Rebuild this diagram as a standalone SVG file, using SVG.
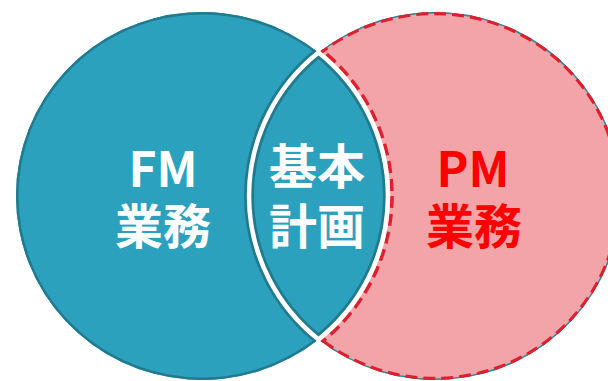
<svg xmlns="http://www.w3.org/2000/svg" width="608" height="381" viewBox="0 0 608 381">
<defs>
<style>
.teal{fill:#2ca1bd}
.pink{fill:#f2a4a8}
.dk{fill:none;stroke:#217a8d}
.rd{fill:none;stroke:#dd1f2e;stroke-width:3.5;stroke-dasharray:12 6}
.lbl{font-family:"Noto Sans CJK JP","Noto Sans",sans-serif;font-weight:bold;font-size:48px;text-anchor:middle}
.w{fill:#ffffff}
.r{fill:#ff0000}
</style>
<clipPath id="cL"><path d="M318.5,52.6 A186,184 0 1 0 318.5,339.4 A186,184 0 0 1 318.5,52.6 Z"/></clipPath>
<clipPath id="cC"><path d="M318.5,52.6 A186,184 0 0 0 318.5,339.4 A186,184 0 0 0 318.5,52.6 Z"/></clipPath>
<clipPath id="cR"><path d="M318.5,52.6 A186,184 0 1 1 318.5,339.4 A186,184 0 0 0 318.5,52.6 Z"/></clipPath>
</defs>
<rect width="608" height="381" fill="#ffffff"/>
<g id="fm">
<path class="teal" d="M318.5,52.6 A186,184 0 1 0 318.5,339.4 A186,184 0 0 1 318.5,52.6 Z"/>
<g clip-path="url(#cL)">
<ellipse class="dk" cx="202" cy="196" rx="186" ry="184" stroke-width="5"/>
<ellipse class="dk" cx="435" cy="196" rx="186" ry="184" stroke-width="10"/>
</g>
<text class="lbl w" x="163" y="187">FM</text>
<text class="lbl w" x="163" y="244">業務</text>
</g>
<g id="pm">
<path class="pink" d="M318.5,52.6 A186,184 0 1 1 318.5,339.4 A186,184 0 0 0 318.5,52.6 Z"/>
<g clip-path="url(#cR)">
<ellipse cx="435" cy="196" rx="186" ry="184" fill="none" stroke="#2a8a9c" stroke-width="3"/>
<ellipse class="rd" cx="435" cy="196" rx="184.6" ry="182.6"/>
<ellipse class="rd" cx="202" cy="196" rx="190" ry="188"/>
</g>
<text class="lbl r" x="473" y="187">PM</text>
<text class="lbl r" x="474" y="244">業務</text>
</g>
<g id="kihon">
<path class="teal" d="M318.5,52.6 A186,184 0 0 0 318.5,339.4 A186,184 0 0 0 318.5,52.6 Z"/>
<g clip-path="url(#cC)">
<ellipse class="dk" cx="202" cy="196" rx="186" ry="184" stroke-width="10"/>
<ellipse class="dk" cx="435" cy="196" rx="186" ry="184" stroke-width="10"/>
</g>
<path d="M318.5,52.6 A186,184 0 0 0 318.5,339.4 A186,184 0 0 0 318.5,52.6 Z" fill="none" stroke="#ffffff" stroke-width="4.5" stroke-linejoin="miter"/>
<text class="lbl w" x="317" y="184">基本</text>
<text class="lbl w" x="317" y="244">計画</text>
</g>
<g id="connectors"/>
</svg>
